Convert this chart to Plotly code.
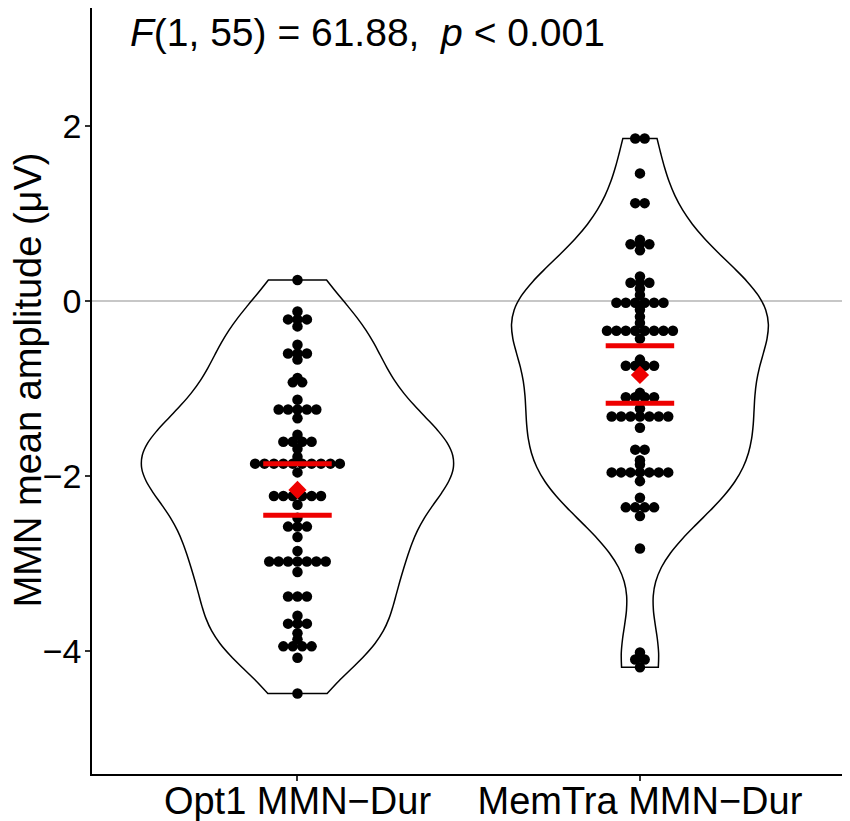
import numpy as np
import plotly.graph_objects as go

# data (one entry per participant dot)
categories = ["Opt1 MMN\u2212Dur", "MemTra MMN\u2212Dur"]

opt1_values = [0.24,
               -0.12, -0.21, -0.21, -0.21, -0.29,
               -0.50, -0.60, -0.60, -0.60, -0.67,
               -0.88, -0.93, -0.93,
               -1.13, -1.24, -1.24, -1.24, -1.24, -1.24, -1.34,
               -1.53, -1.61, -1.61, -1.61, -1.61, -1.69, -1.78,
               -1.86, -1.86, -1.86, -1.86, -1.86, -1.86, -1.86, -1.86, -1.86, -1.86,
               -1.96,
               -2.23, -2.23, -2.23, -2.23, -2.23, -2.23, -2.33,
               -2.48, -2.58, -2.58, -2.58, -2.70,
               -2.86, -2.98, -2.98, -2.98, -2.98, -2.98, -2.98, -2.98, -3.10,
               -3.38, -3.38, -3.38,
               -3.60, -3.69, -3.69, -3.69, -3.80, -3.87,
               -3.95, -3.95, -3.95, -3.95, -4.08,
               -4.49]

memtra_values = [1.86, 1.86,
                 1.46,
                 1.12, 1.12,
                 0.70, 0.65, 0.65, 0.65, 0.58,
                 0.28, 0.21, 0.21, 0.21, 0.14, 0.07,
                 -0.02, -0.02, -0.02, -0.02, -0.02, -0.02,
                 -0.10, -0.18, -0.25,
                 -0.34, -0.34, -0.34, -0.34, -0.34, -0.34, -0.34, -0.34,
                 -0.43,
                 -0.67, -0.74, -0.74, -0.74, -0.74,
                 -1.05, -1.10, -1.10, -1.10, -1.10,
                 -1.23, -1.32, -1.32, -1.32, -1.32, -1.32, -1.32, -1.32, -1.45,
                 -1.70, -1.70, -1.82, -1.87,
                 -1.96, -1.96, -1.96, -1.96, -1.96, -1.96, -1.96, -2.06,
                 -2.25, -2.36, -2.36, -2.36, -2.36, -2.46,
                 -2.83,
                 -4.02, -4.10, -4.10, -4.19]

means = [-2.16, -0.845]
ci_low = [-2.45, -1.17]
ci_high = [-1.86, -0.51]

y_ticks = [-4, -2, 0, 2]
stat_text = "<i>F</i>(1, 55) = 61.88,  <i>p</i> < 0.001"
y_title = "MMN mean amplitude (\u03bcV)"

FONT = "Liberation Sans, Arial, sans-serif"
positions = [1, 2]
violin_widths = [0.91, 0.75]
dot_step = 0.0275


def nrd0(v):
    # same rule of thumb as R's bw.nrd0
    v = np.asarray(v)
    sd = v.std(ddof=1)
    q75, q25 = np.percentile(v, [75, 25])
    return 0.9 * min(sd, (q75 - q25) / 1.34) * len(v) ** -0.2


def stack(vals, pos):
    xs, ys = [], []
    for v in sorted(set(vals)):
        n = vals.count(v)
        for k in range(n):
            xs.append(pos + (k - (n - 1) / 2) * dot_step)
            ys.append(v)
    return xs, ys


fig = go.Figure()

groups = [opt1_values, memtra_values]
for vals, pos, w in zip(groups, positions, violin_widths):
    fig.add_trace(go.Violin(
        y=vals, x0=pos, width=w, bandwidth=nrd0(vals),
        spanmode="hard", scalemode="width", points=False,
        fillcolor="rgba(255,255,255,0)", line=dict(color="black", width=1.5),
        box_visible=False, meanline_visible=False, showlegend=False,
        hoverinfo="skip"))

for vals, pos in zip(groups, positions):
    xs, ys = stack(vals, pos)
    fig.add_trace(go.Scatter(
        x=xs, y=ys, mode="markers",
        marker=dict(color="black", size=10.5, line=dict(width=0)),
        showlegend=False))

for pos, lo, hi in zip(positions, ci_low, ci_high):
    for yv in (lo, hi):
        fig.add_trace(go.Scatter(
            x=[pos - 0.1, pos + 0.1], y=[yv, yv], mode="lines",
            line=dict(color="#ee0000", width=5), showlegend=False))

fig.add_trace(go.Scatter(
    x=positions, y=means, mode="markers",
    marker=dict(symbol="diamond", color="#ee0000", size=14, line=dict(width=0)),
    showlegend=False))

fig.add_shape(type="line", xref="paper", x0=0, x1=1, y0=0, y1=0,
              line=dict(color="#b5b5b5", width=1.5), layer="below")

fig.add_annotation(text=stat_text, xref="paper", x=0.048, xanchor="left",
                   yref="y", y=3.07, yanchor="middle", showarrow=False,
                   font=dict(family=FONT, size=39, color="black"))
fig.add_annotation(text=y_title, xref="paper", x=-0.0853, xanchor="center",
                   yref="paper", y=0.514, yanchor="middle", textangle=-90,
                   showarrow=False, font=dict(family=FONT, size=38, color="black"))

# page body adds an 8px margin; the window shows the top 821px of the page
fig.update_layout(
    width=834, height=832,
    margin=dict(l=84, r=0, t=0, b=66),
    paper_bgcolor="white", plot_bgcolor="white",
    font=dict(family=FONT, color="black"),
    xaxis=dict(range=[0.4, 2.59], tickvals=positions, ticktext=categories,
               showgrid=False, zeroline=False, showline=True, linecolor="black",
               linewidth=1.5, ticks="outside", ticklen=5, tickwidth=1.5,
               tickcolor="#333333", ticklabelstandoff=-12,
               tickfont=dict(size=38, color="black")),
    yaxis=dict(range=[-5.41, 3.352], tickvals=y_ticks,
               showgrid=False, zeroline=False, showline=True, linecolor="black",
               linewidth=1.5, ticks="outside", ticklen=5, tickwidth=1.5,
               tickcolor="#333333", ticklabelstandoff=-3,
               tickfont=dict(size=34, color="black")),
)

fig.write_html("out.html")
